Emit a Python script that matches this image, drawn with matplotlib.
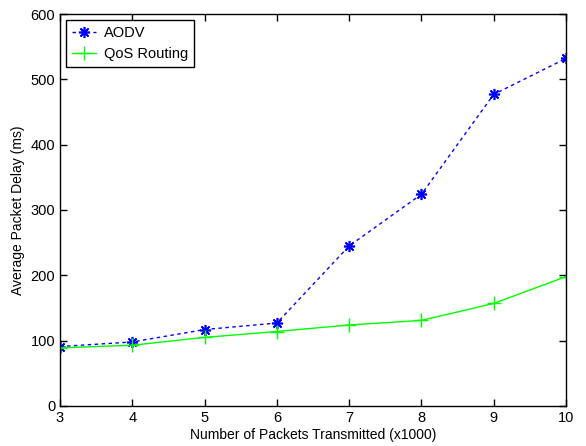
import matplotlib
matplotlib.use("Agg")
import matplotlib.pyplot as plt

plt.rcParams['font.family'] = ['Liberation Sans', 'DejaVu Sans']

x = [3, 4, 5, 6, 7, 8, 9, 10]
aodv = [91, 98, 117, 127, 245, 324, 477, 532]
qos = [89, 93, 105, 114, 124, 131, 157, 198]

fig = plt.figure(figsize=(5.86, 4.46), dpi=100)
ax = fig.add_axes([0.1024, 0.0897, 0.8635, 0.8789])

ax.plot(x, aodv, color='#0000ff', linestyle=(0, (2.5, 2.5)), linewidth=1.0,
        marker=(8, 2, 0), markersize=8, markeredgewidth=1.2, label='AODV')
ax.plot(x, qos, color='#00ff00', linestyle='-', linewidth=1.0,
        marker='+', markersize=10, markeredgewidth=1.0, label='QoS Routing')

ax.set_xlim(3, 10)
ax.set_ylim(0, 600)
ax.set_xticks(range(3, 11))
ax.set_yticks(range(0, 601, 100))
ax.tick_params(direction='in', top=True, right=True, labelsize=10.5, length=5, width=1)
for s in ax.spines.values():
    s.set_linewidth(1.0)

ax.set_xlabel('Number of Packets Transmitted (x1000)', fontsize=10, labelpad=2)
ax.set_ylabel('Average Packet Delay (ms)', fontsize=10, labelpad=4)

leg = ax.legend(loc='upper left', fontsize=10.5, frameon=True, fancybox=False,
                edgecolor='black', framealpha=1, borderpad=0.4, handlelength=1.7,
                handletextpad=0.5, borderaxespad=0.4)
leg.get_frame().set_linewidth(1.0)

fig.savefig('out.png', dpi=100)
